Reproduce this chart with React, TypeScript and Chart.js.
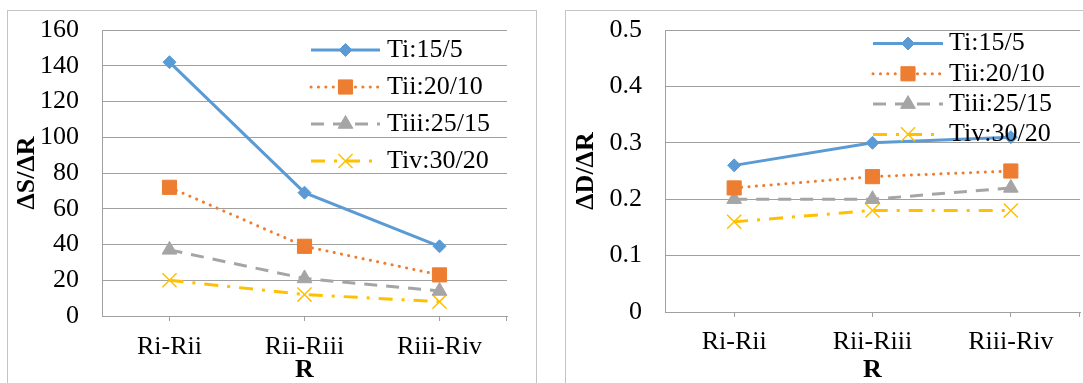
import React, { useEffect, useRef } from 'react';
import { Chart, registerables } from 'chart.js';
import { drawPoint } from 'chart.js/helpers';

Chart.register(...registerables);

// ---------- data ----------
const categories = ['Ri-Rii', 'Rii-Riii', 'Riii-Riv'];
const seriesLabels = ['Ti:15/5', 'Tii:20/10', 'Tiii:25/15', 'Tiv:30/20'];

const dS_Ti = [142, 69, 39];
const dS_Tii = [72, 39, 23];
const dS_Tiii = [37, 21, 14];
const dS_Tiv = [20, 12, 8];

const dD_Ti = [0.26, 0.30, 0.31];
const dD_Tii = [0.22, 0.24, 0.25];
const dD_Tiii = [0.20, 0.20, 0.22];
const dD_Tiv = [0.16, 0.18, 0.18];

const leftYTitle = 'ΔS/ΔR';
const rightYTitle = 'ΔD/ΔR';
const xTitle = 'R';

// ---------- styles ----------
const FONT = "'Liberation Serif', 'Times New Roman', serif";
const GRID = '#a0a0a0';
const seriesStyles = [
  { color: '#5B9BD5', dash: [], cap: 'butt', width: 3, point: 'rectRot', radius: 6.5, pbw: 1 },
  { color: '#ED7D31', dash: [0.1, 7.3], cap: 'round', width: 3, point: 'rect', radius: 10, pbw: 1 },
  { color: '#A5A5A5', dash: [13, 9], cap: 'butt', width: 3, point: 'triangle', radius: 8.5, pbw: 1 },
  { color: '#FFC000', dash: [14, 9, 3, 9], cap: 'butt', width: 3, point: 'crossRot', radius: 10, pbw: 1.5 },
];

const insideLegend = {
  id: 'insideLegend',
  beforeDatasetsDraw(chart: any) {
    // closing tick mark at the right end of the category axis
    const { ctx, chartArea } = chart;
    ctx.save();
    ctx.strokeStyle = GRID;
    ctx.lineWidth = 1;
    ctx.beginPath();
    const x = Math.round(chartArea.right) - 0.5;
    ctx.moveTo(x, chartArea.bottom);
    ctx.lineTo(x, chartArea.bottom + 5);
    ctx.stroke();
    ctx.restore();
  },
  afterDatasetsDraw(chart: any, _args: any, opts: any) {
    const { ctx } = chart;
    const { x1, x2, textX, y0, step } = opts;
    chart.data.datasets.forEach((ds: any, i: number) => {
      const y = y0 + i * step;
      ctx.save();
      ctx.strokeStyle = ds.borderColor;
      ctx.lineWidth = ds.borderWidth;
      ctx.lineCap = ds.borderCapStyle || 'butt';
      ctx.setLineDash(ds.borderDash || []);
      ctx.beginPath();
      ctx.moveTo(x1, y);
      ctx.lineTo(x2, y);
      ctx.stroke();
      ctx.setLineDash([]);
      ctx.lineCap = 'butt';
      ctx.fillStyle = ds.pointBackgroundColor;
      ctx.strokeStyle = ds.pointBorderColor;
      ctx.lineWidth = ds.pointBorderWidth;
      drawPoint(ctx, { pointStyle: ds.pointStyle, radius: ds.pointRadius, rotation: 0, borderWidth: ds.pointBorderWidth }, (x1 + x2) / 2, y);
      ctx.fillStyle = '#000';
      ctx.font = `26px ${FONT}`;
      ctx.textBaseline = 'middle';
      ctx.textAlign = 'left';
      ctx.fillText(ds.label, textX, y);
      ctx.restore();
    });
  },
};

function makeDatasets(values: number[][]) {
  return values.map((v, i) => {
    const s = seriesStyles[i];
    return {
      label: seriesLabels[i],
      data: v,
      borderColor: s.color,
      backgroundColor: s.color,
      borderWidth: s.width,
      borderDash: s.dash,
      borderCapStyle: s.cap,
      pointStyle: s.point,
      pointRadius: s.radius,
      pointBackgroundColor: s.color,
      pointBorderColor: s.color,
      pointBorderWidth: s.pbw,
      tension: 0,
      fill: false,
    };
  });
}

function makeConfig(p: any) {
  return {
    type: 'line',
    data: { labels: categories, datasets: makeDatasets(p.values) },
    plugins: [insideLegend],
    options: {
      animation: false,
      responsive: false,
      maintainAspectRatio: false,
      layout: { padding: { left: 0, right: p.padRight, top: 30, bottom: 0 } },
      plugins: {
        legend: { display: false },
        tooltip: { enabled: false },
        insideLegend: p.legend,
      },
      scales: {
        x: {
          offset: true,
          ticks: { padding: p.xTickPad, color: '#000', font: { family: FONT, size: 26 }, maxRotation: 0 },
          grid: { display: true, drawOnChartArea: false, drawTicks: true, tickLength: 5, offset: false, color: GRID },
          border: { display: true, color: GRID, width: 1 },
          title: { display: true, text: xTitle, color: '#000', font: { family: FONT, size: 26, weight: 'bold', lineHeight: 1 }, padding: { top: 0, bottom: 0 } },
          afterFit: (s: any) => { s.height = p.xHeight; s.paddingLeft = 0; s.paddingRight = 0; },
        },
        y: {
          min: 0,
          max: p.yMax,
          ticks: { stepSize: p.yStep, padding: 23, color: '#000', font: { family: FONT, size: 26 } },
          grid: { color: GRID, lineWidth: 1, drawTicks: false },
          border: { display: true, color: GRID, width: 1 },
          title: { display: true, text: p.yTitle, color: '#000', font: { family: FONT, size: 26, weight: 'bold', lineHeight: 1 }, padding: { top: p.yTitlePad, bottom: 0 } },
          afterFit: (s: any) => { s.width = p.yWidth; s.paddingTop = 0; s.paddingBottom = 0; },
        },
      },
    },
  };
}

function ChartCanvas({ config, width, height, left }: any) {
  const ref = useRef<HTMLCanvasElement>(null);
  useEffect(() => {
    const chart = new Chart(ref.current as HTMLCanvasElement, config);
    return () => chart.destroy();
  }, []);
  return (
    <canvas
      ref={ref}
      width={width}
      height={height}
      style={{ position: 'absolute', left, top: 0, width, height, display: 'block' }}
    />
  );
}

export default function App() {
  const leftConfig = makeConfig({
    values: [dS_Ti, dS_Tii, dS_Tiii, dS_Tiv],
    padRight: 33,
    xTickPad: 11,
    xHeight: 67,
    yMax: 160,
    yStep: 20,
    yTitle: leftYTitle,
    yTitlePad: 14.5,
    yWidth: 102,
    legend: { x1: 311, x2: 380, textX: 387, y0: 50, step: 37 },
  });
  const rightConfig = makeConfig({
    values: [dD_Ti, dD_Tii, dD_Tiii, dD_Tiv],
    padRight: 20,
    xTickPad: 10,
    xHeight: 71,
    yMax: 0.5,
    yStep: 0.1,
    yTitle: rightYTitle,
    yTitlePad: 33.7,
    yWidth: 125,
    legend: { x1: 333, x2: 403, textX: 409, y0: 43.5, step: 30.3 },
  });
  return (
    <div style={{ position: 'fixed', left: 0, top: 0, width: 1083, height: 383, background: '#fff', overflow: 'hidden' }}>
      <div style={{ position: 'absolute', left: 7, top: 10, width: 530, height: 420, border: '1px solid #c4c4c4', boxSizing: 'border-box' }} />
      <div style={{ position: 'absolute', left: 565, top: 10, width: 560, height: 420, border: '1px solid #c4c4c4', boxSizing: 'border-box' }} />
      <ChartCanvas config={leftConfig} width={540} height={383} left={0} />
      <ChartCanvas config={rightConfig} width={560} height={383} left={540} />
    </div>
  );
}
